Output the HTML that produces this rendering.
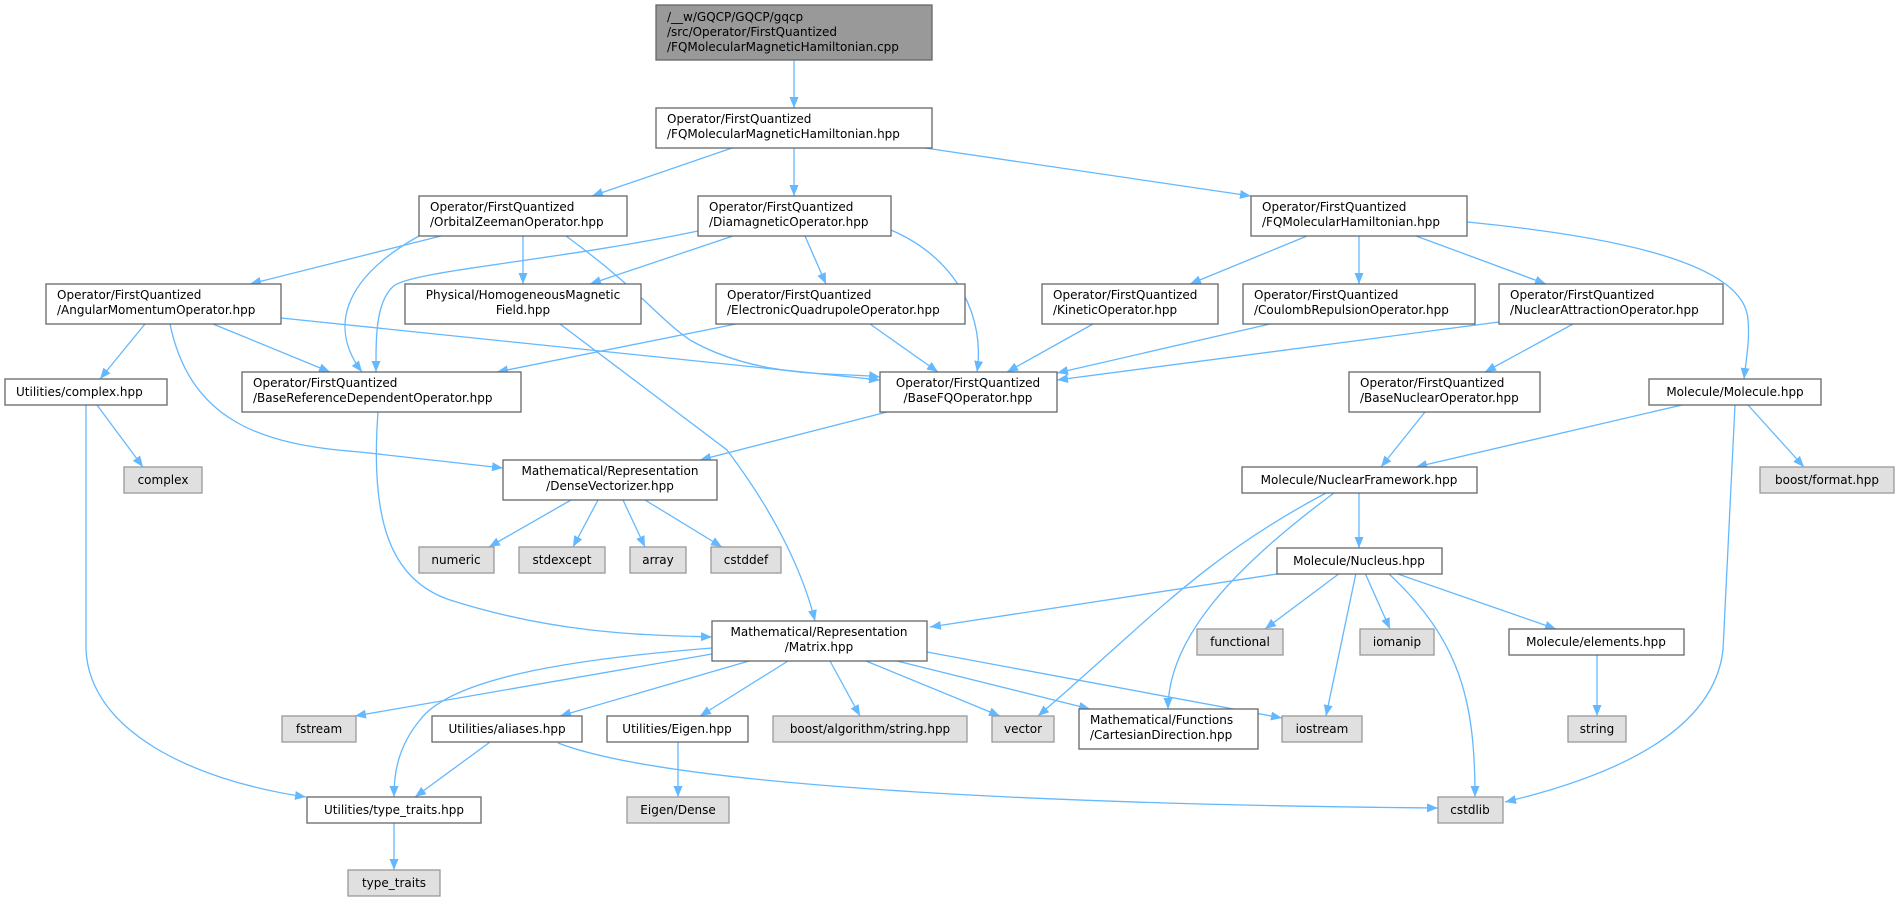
<!DOCTYPE html>
<html><head><meta charset="utf-8"><style>
html,body{margin:0;padding:0;background:#fff;}
svg{display:block;}
text{font-family:"DejaVu Sans","Liberation Sans",sans-serif;font-size:12px;fill:#000;}
.n{fill:#fff;stroke:#666;stroke-width:1.3;}
.g{fill:#e0e0e0;stroke:#999;stroke-width:1.3;}
.r{fill:#999;stroke:#666;stroke-width:1.3;}
path{fill:none;stroke:#63b8ff;stroke-width:1.3;}
.c{text-anchor:middle;}
</style></head><body>
<svg width="1900" height="901" viewBox="0 0 1900 901" xmlns="http://www.w3.org/2000/svg">
<defs><marker id="a" markerUnits="userSpaceOnUse" markerWidth="12" markerHeight="10" refX="11" refY="5" orient="auto"><polygon points="0,0.5 11,5 0,9.5" fill="#63b8ff"/></marker></defs>
<g marker-end="url(#a)">
<path d="M794,60 L794,108"/>
<path d="M732,148 L592,196"/>
<path d="M794,148 L794,196"/>
<path d="M925,148 L1251,196"/>
<path d="M441,236 L250,284"/>
<path d="M419,236 C340,280 330,330 362,372"/>
<path d="M523,236 L523,284"/>
<path d="M566,236 C640,290 660,320 690,340 C760,380 840,372 880,377"/>
<path d="M698,231 C560,260 420,270 395,285 C375,300 376,340 376,372"/>
<path d="M733,236 L590,284"/>
<path d="M805,236 L826,284"/>
<path d="M891,230 C960,260 985,320 977,372"/>
<path d="M145,324 L100,379"/>
<path d="M213,324 L330,372"/>
<path d="M281,318 L880,380"/>
<path d="M170,324 C190,420 260,445 360,452 L503,468"/>
<path d="M560,324 L727,450 C780,520 805,580 815,621"/>
<path d="M736,324 L497,372"/>
<path d="M870,324 L938,372"/>
<path d="M887,412 L700,460"/>
<path d="M378,412 C370,520 390,580 450,600 C560,635 650,635 712,637"/>
<path d="M1307,236 L1190,284"/>
<path d="M1359,236 L1359,284"/>
<path d="M1416,236 L1546,284"/>
<path d="M1467,222 C1600,235 1745,260 1748,320 C1750,340 1746,360 1744,379"/>
<path d="M1093,324 L1007,372"/>
<path d="M1270,324 L1057,373"/>
<path d="M1499,322 L1057,380"/>
<path d="M1573,324 L1485,372"/>
<path d="M1425,412 L1381,467"/>
<path d="M1682,405 L1416,467"/>
<path d="M1748,405 L1804,467"/>
<path d="M1735,405 L1723,650 C1715,720 1640,770 1505,802"/>
<path d="M1359,493 L1359,548"/>
<path d="M1326,493 C1200,560 1150,620 1038,716"/>
<path d="M1334,493 C1230,570 1168,640 1168,709"/>
<path d="M1277,574 L930,627"/>
<path d="M1340,573 L1265,629"/>
<path d="M1365,573 L1390,629"/>
<path d="M1356,573 L1326,716"/>
<path d="M1388,573 C1460,640 1475,700 1475,797"/>
<path d="M1395,573 L1556,629"/>
<path d="M1597,654 L1597,716"/>
<path d="M712,654 L355,716"/>
<path d="M712,648 C560,660 450,680 420,720 C395,750 394,780 394,797"/>
<path d="M749,661 L560,716"/>
<path d="M788,661 L700,716"/>
<path d="M830,661 L860,716"/>
<path d="M866,661 L1000,716"/>
<path d="M897,661 L1090,709"/>
<path d="M927,652 L1282,718"/>
<path d="M97,405 L143,467"/>
<path d="M86,405 L86,650 C90,730 190,780 306,797"/>
<path d="M571,500 L489,547"/>
<path d="M598,500 L573,547"/>
<path d="M623,500 L645,547"/>
<path d="M645,500 L722,547"/>
<path d="M490,742 L415,797"/>
<path d="M558,743 C680,790 1100,805 1438,808"/>
<path d="M678,742 L678,797"/>
<path d="M394,823 L394,870"/>
</g>

<rect class="r" x="656" y="5" width="276" height="55"/>
<text x="667" y="21">/__w/GQCP/GQCP/gqcp</text><text x="667" y="36">/src/Operator/FirstQuantized</text><text x="667" y="51">/FQMolecularMagneticHamiltonian.cpp</text>

<rect class="n" x="656" y="108" width="276" height="40"/>
<text x="667" y="123">Operator/FirstQuantized</text><text x="667" y="138">/FQMolecularMagneticHamiltonian.hpp</text>

<rect class="n" x="419" y="196" width="208" height="40"/>
<text x="430" y="211">Operator/FirstQuantized</text><text x="430" y="226">/OrbitalZeemanOperator.hpp</text>

<rect class="n" x="698" y="196" width="193" height="40"/>
<text x="709" y="211">Operator/FirstQuantized</text><text x="709" y="226">/DiamagneticOperator.hpp</text>

<rect class="n" x="1251" y="196" width="216" height="40"/>
<text x="1262" y="211">Operator/FirstQuantized</text><text x="1262" y="226">/FQMolecularHamiltonian.hpp</text>

<rect class="n" x="46" y="284" width="235" height="40"/>
<text x="57" y="299">Operator/FirstQuantized</text><text x="57" y="314">/AngularMomentumOperator.hpp</text>

<rect class="n" x="405" y="284" width="236" height="40"/>
<text class="c" x="523" y="299">Physical/HomogeneousMagnetic</text><text class="c" x="523" y="314">Field.hpp</text>

<rect class="n" x="716" y="284" width="249" height="40"/>
<text x="727" y="299">Operator/FirstQuantized</text><text x="727" y="314">/ElectronicQuadrupoleOperator.hpp</text>

<rect class="n" x="1042" y="284" width="176" height="40"/>
<text x="1053" y="299">Operator/FirstQuantized</text><text x="1053" y="314">/KineticOperator.hpp</text>

<rect class="n" x="1243" y="284" width="232" height="40"/>
<text x="1254" y="299">Operator/FirstQuantized</text><text x="1254" y="314">/CoulombRepulsionOperator.hpp</text>

<rect class="n" x="1499" y="284" width="224" height="40"/>
<text x="1510" y="299">Operator/FirstQuantized</text><text x="1510" y="314">/NuclearAttractionOperator.hpp</text>

<rect class="n" x="5" y="379" width="162" height="26"/>
<text x="16" y="396">Utilities/complex.hpp</text>

<rect class="n" x="242" y="372" width="279" height="40"/>
<text x="253" y="387">Operator/FirstQuantized</text><text x="253" y="402">/BaseReferenceDependentOperator.hpp</text>

<rect class="n" x="880" y="372" width="177" height="40"/>
<text class="c" x="968" y="387">Operator/FirstQuantized</text><text class="c" x="968" y="402">/BaseFQOperator.hpp</text>

<rect class="n" x="1349" y="372" width="191" height="40"/>
<text x="1360" y="387">Operator/FirstQuantized</text><text x="1360" y="402">/BaseNuclearOperator.hpp</text>

<rect class="n" x="1649" y="379" width="172" height="26"/>
<text class="c" x="1735" y="396">Molecule/Molecule.hpp</text>

<rect class="g" x="124" y="467" width="78" height="26"/>
<text class="c" x="163" y="484">complex</text>

<rect class="n" x="503" y="460" width="214" height="40"/>
<text class="c" x="610" y="475">Mathematical/Representation</text><text class="c" x="610" y="490">/DenseVectorizer.hpp</text>

<rect class="n" x="1242" y="467" width="235" height="26"/>
<text class="c" x="1359" y="484">Molecule/NuclearFramework.hpp</text>

<rect class="g" x="1760" y="467" width="134" height="26"/>
<text class="c" x="1827" y="484">boost/format.hpp</text>

<rect class="g" x="419" y="547" width="75" height="26"/><text class="c" x="456" y="564">numeric</text>
<rect class="g" x="519" y="547" width="86" height="26"/><text class="c" x="562" y="564">stdexcept</text>
<rect class="g" x="630" y="547" width="56" height="26"/><text class="c" x="658" y="564">array</text>
<rect class="g" x="711" y="547" width="70" height="26"/><text class="c" x="746" y="564">cstddef</text>

<rect class="n" x="1277" y="548" width="165" height="26"/>
<text class="c" x="1359" y="565">Molecule/Nucleus.hpp</text>

<rect class="n" x="712" y="621" width="215" height="40"/>
<text class="c" x="819" y="636">Mathematical/Representation</text><text class="c" x="819" y="651">/Matrix.hpp</text>

<rect class="g" x="1197" y="629" width="86" height="26"/><text class="c" x="1240" y="646">functional</text>
<rect class="g" x="1360" y="629" width="74" height="26"/><text class="c" x="1397" y="646">iomanip</text>
<rect class="n" x="1509" y="629" width="175" height="26"/><text class="c" x="1596" y="646">Molecule/elements.hpp</text>

<rect class="g" x="282" y="716" width="74" height="26"/><text class="c" x="319" y="733">fstream</text>
<rect class="n" x="432" y="716" width="150" height="26"/><text class="c" x="507" y="733">Utilities/aliases.hpp</text>
<rect class="n" x="607" y="716" width="141" height="26"/><text class="c" x="677" y="733">Utilities/Eigen.hpp</text>
<rect class="g" x="773" y="716" width="194" height="26"/><text class="c" x="870" y="733">boost/algorithm/string.hpp</text>
<rect class="g" x="992" y="716" width="62" height="26"/><text class="c" x="1023" y="733">vector</text>
<rect class="n" x="1079" y="709" width="179" height="40"/>
<text x="1090" y="724">Mathematical/Functions</text><text x="1090" y="739">/CartesianDirection.hpp</text>
<rect class="g" x="1282" y="716" width="80" height="26"/><text class="c" x="1322" y="733">iostream</text>
<rect class="g" x="1568" y="716" width="58" height="26"/><text class="c" x="1597" y="733">string</text>

<rect class="n" x="307" y="797" width="174" height="26"/><text class="c" x="394" y="814">Utilities/type_traits.hpp</text>
<rect class="g" x="627" y="797" width="102" height="26"/><text class="c" x="678" y="814">Eigen/Dense</text>
<rect class="g" x="1438" y="797" width="65" height="26"/><text class="c" x="1470" y="814">cstdlib</text>

<rect class="g" x="348" y="870" width="92" height="26"/><text class="c" x="394" y="887">type_traits</text>
</svg>
</body></html>
